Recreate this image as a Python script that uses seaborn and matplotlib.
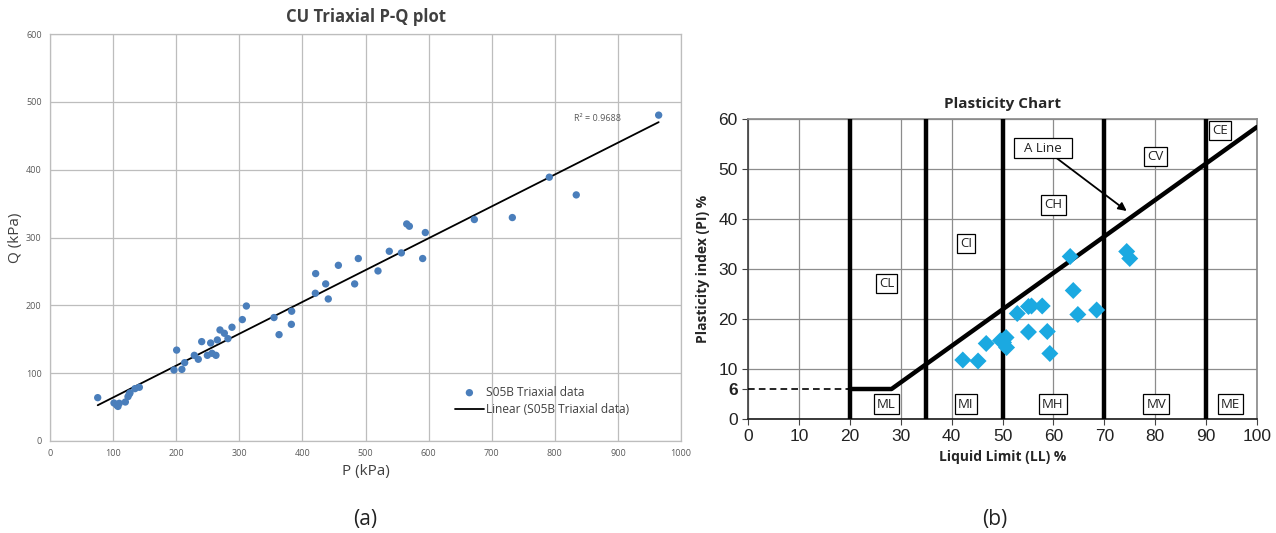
import numpy as np
import pandas as pd
import matplotlib
matplotlib.use("Agg")
import matplotlib.pyplot as plt
import seaborn as sns

# ---- (a) CU triaxial P-Q data ----
p_kpa = [75.6, 101.4, 105.6, 107.7, 109.8, 119.4, 123.6, 125.7, 126.8, 134.7, 141.6,
         196.5, 200.7, 209.0, 213.4, 228.7, 235.0, 240.4, 249.4, 254.6, 256.7, 263.0,
         265.2, 269.4, 276.3, 282.0, 288.4, 304.8, 311.2, 355.0, 363.0, 382.5, 383.0,
         420.5, 421.0, 436.9, 441.0, 457.0, 482.8, 488.6, 519.8, 537.7, 556.8, 565.3,
         569.5, 590.6, 594.8, 672.5, 732.7, 791.3, 834.0, 964.6]
q_kpa = [63.9, 56.0, 53.0, 51.0, 55.6, 57.5, 65.4, 69.3, 71.0, 77.2, 79.2,
         104.7, 134.0, 105.6, 115.5, 126.3, 120.5, 146.5, 126.3, 144.5, 129.3, 126.3,
         149.0, 163.7, 158.8, 150.9, 167.7, 179.0, 199.0, 182.0, 156.8, 172.0, 191.3,
         217.8, 246.8, 231.6, 209.4, 259.0, 231.6, 269.0, 250.7, 279.7, 277.3, 320.0,
         316.6, 269.0, 307.3, 326.5, 329.4, 388.9, 362.8, 480.4]
r2_text = "R\u00b2 = 0.9688"

# ---- (b) plasticity chart data ----
ll = [42.2, 45.2, 46.8, 49.6, 50.2, 50.7, 50.8, 52.9, 55.1, 55.1, 55.7, 57.8,
      58.8, 59.3, 63.9, 64.8, 68.5, 63.3, 74.4, 75.0]
pi = [11.8, 11.6, 15.1, 15.7, 15.3, 16.3, 14.3, 21.1, 17.4, 22.5, 22.6, 22.6,
      17.5, 13.1, 25.7, 20.9, 21.8, 32.5, 33.5, 32.1]
zone_bounds = [20, 35, 50, 70, 90]
a_line_ll = [20, 28.2, 100]
a_line_pi = [6, 6, 58.4]
zone_names = ["CL", "CI", "CH", "CV", "CE", "ML", "MI", "MH", "MV", "ME"]
zone_ll = [27.2, 42.8, 60.0, 80.1, 92.7, 27.2, 42.8, 59.9, 80.2, 94.8]
zone_pi = [27.1, 35.1, 42.8, 52.5, 57.7, 3.0, 3.0, 3.0, 3.0, 3.0]

sns.set_theme(style="white")
plt.rcParams['font.family'] = ['Open Sans', 'DejaVu Sans']

fig = plt.figure(figsize=(12.76, 5.33), dpi=100)

# ================= (a) =================
ax1 = fig.add_axes([50/1276, 1-441/533, 631/1276, 407/533])
df_pq = pd.DataFrame({'P': p_kpa, 'Q': q_kpa})
sns.scatterplot(data=df_pq, x='P', y='Q', ax=ax1, color='#4A7EBB', s=28,
                edgecolor='none', label='S05B Triaxial data', zorder=3)
sns.regplot(data=df_pq, x='P', y='Q', ax=ax1, scatter=False, ci=None, truncate=True,
            line_kws=dict(color='black', lw=1.3), label='Linear (S05B Triaxial data)')
ax1.set_xlim(0, 1000)
ax1.set_ylim(0, 600)
ax1.set_xticks(np.arange(0, 1001, 100))
ax1.set_yticks(np.arange(0, 601, 100))
ax1.grid(True, color='#BDBDBD', lw=0.9)
for s in ax1.spines.values():
    s.set_color('#BDBDBD')
    s.set_linewidth(0.9)
ax1.tick_params(length=0, labelsize=6.5, labelcolor='#595959', pad=6)
ax1.set_xlabel('P (kPa)', fontsize=11, color='#404040', labelpad=4)
ax1.set_ylabel('Q (kPa)', fontsize=11, color='#404040', labelpad=2)
ax1.set_title('CU Triaxial P-Q plot', fontsize=12, fontweight='bold', color='#404040', pad=9)
ax1.text(868, 469, r2_text, fontsize=6.5, color='#595959', ha='center', va='bottom')
leg = ax1.legend(loc='lower right', bbox_to_anchor=(0.935, 0.035), frameon=False,
                 fontsize=8.6, handlelength=2.4, handletextpad=0.2, labelspacing=0.35)
for t in leg.get_texts():
    t.set_color('#404040')

# ================= (b) =================
ax2 = fig.add_axes([748/1276, 1-419/533, 509/1276, 300/533])
ax2.set_xlim(0, 100)
ax2.set_ylim(0, 60)
ax2.set_xticks(np.arange(0, 101, 10))
ax2.set_yticks(np.arange(0, 61, 10))
ax2.set_yticks([6], minor=True)
ax2.set_yticklabels(['6'], minor=True, fontweight='bold', fontsize=12.5,
                    family=['Liberation Sans', 'DejaVu Sans'])
ax2.grid(True, which='major', color='#8C8C8C', lw=0.9)
ax2.tick_params(which='both', direction='out', length=4, width=0.8, color='#444444',
                labelsize=12.5, labelcolor='#222222', left=True, bottom=True)
for lab in ax2.get_xticklabels() + ax2.get_yticklabels(which='major'):
    lab.set_family(['Liberation Sans', 'DejaVu Sans'])
for s in ax2.spines.values():
    s.set_color('#8C8C8C')
ax2.spines['bottom'].set_color('#222222')
ax2.spines['left'].set_color('#444444')

for xb in zone_bounds:
    ax2.plot([xb, xb], [0, 60], color='black', lw=3.2, zorder=4, solid_capstyle='butt')
sns.lineplot(x=a_line_ll, y=a_line_pi, ax=ax2, color='black', lw=3.2, sort=False,
             estimator=None, zorder=4)
ax2.plot([0, 20], [6, 6], color='black', lw=1.2, ls=(0, (4, 2.5)), zorder=4)

df_pl = pd.DataFrame({'LL': ll, 'PI': pi})
sns.scatterplot(data=df_pl, x='LL', y='PI', ax=ax2, marker='D', s=75,
                color='#1BA9E1', edgecolor='none', zorder=5)

box = dict(boxstyle='square,pad=0.25', fc='white', ec='black', lw=0.9)
for name, zx, zy in zip(zone_names, zone_ll, zone_pi):
    ax2.text(zx, zy, name, fontsize=9.5, ha='center', va='center', bbox=box,
             color='#222222', zorder=6)
ax2.annotate('  A Line  ', xy=(74.4, 41.6), xytext=(58, 54.2), fontsize=9.5,
             ha='center', va='center', color='#222222',
             bbox=dict(boxstyle='square,pad=0.25', fc='white', ec='black', lw=0.9),
             arrowprops=dict(arrowstyle='-|>', color='black', lw=1.3,
                             shrinkA=0, shrinkB=0, mutation_scale=12), zorder=6)

ax2.set_xlabel('Liquid Limit (LL) %', fontsize=10, fontweight='bold', labelpad=4)
ax2.set_ylabel('Plasticity index (PI) %', fontsize=10, fontweight='bold', labelpad=6)
ax2.set_title('Plasticity Chart', fontsize=11, fontweight='bold', pad=8)

fig.text(365/1276, 1-519/533, '(a)', fontsize=15, ha='center', va='center', color='#222222')
fig.text(995/1276, 1-519/533, '(b)', fontsize=15, ha='center', va='center', color='#222222')

fig.savefig('out.png', dpi=100)
